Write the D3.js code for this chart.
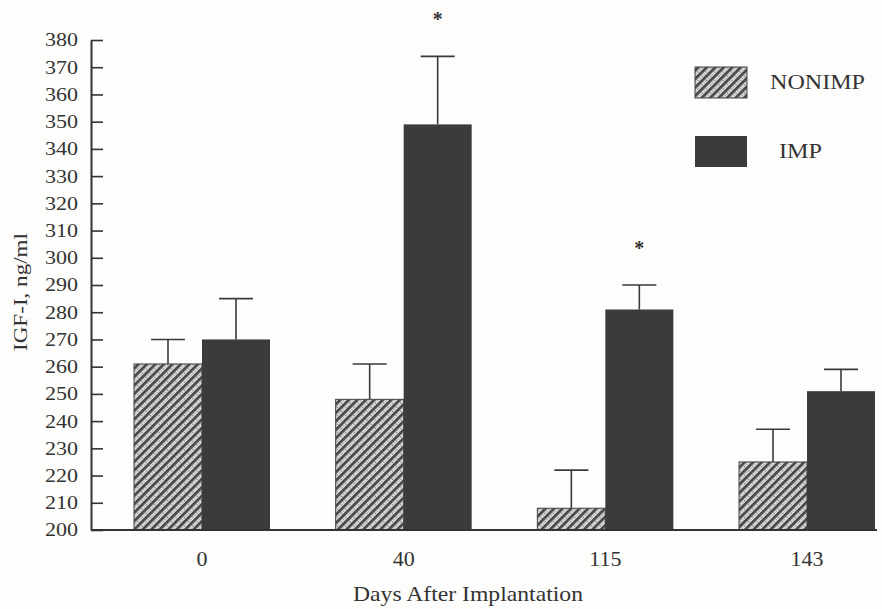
<!DOCTYPE html>
<html>
<head>
<meta charset="utf-8">
<script src="https://cdn.jsdelivr.net/npm/d3@7"></script>
<style>
  html, body { margin: 0; padding: 0; background: #fdfdfb; }
  svg { display: block; }
  text { font-family: "Liberation Serif", "DejaVu Serif", serif; fill: #333; }
</style>
</head>
<body>
<svg id="chart" width="882" height="609"></svg>
<script>
// ---- data ----
const days = ["0", "40", "115", "143"];
const seriesNames = ["NONIMP", "IMP"];
const nonimpMeans = [261, 248, 208, 225];
const impMeans = [270, 349, 281, 251];
const nonimpErr = [9, 13, 14, 12];
const impErr = [15, 25, 9, 8];
const significant = [false, true, true, false];
const yTicks = [200, 210, 220, 230, 240, 250, 260, 270, 280, 290, 300, 310, 320, 330, 340, 350, 360, 370, 380];

const svg = d3.select("#chart");
const ink = "#333";

// hatch pattern for NONIMP
const defs = svg.append("defs");
const pat = defs.append("pattern")
  .attr("id", "hatch")
  .attr("patternUnits", "userSpaceOnUse")
  .attr("width", 6).attr("height", 6)
  .attr("patternTransform", "rotate(45)");
pat.append("rect").attr("width", 6).attr("height", 6).attr("fill", "#e2e2e0");
pat.append("rect").attr("x", 0).attr("y", 0).attr("width", 2.8).attr("height", 6).attr("fill", "#474747");
pat.append("circle").attr("cx", 4.4).attr("cy", 1.5).attr("r", 0.8).attr("fill", "#6a6a6a");
pat.append("circle").attr("cx", 4.4).attr("cy", 4.5).attr("r", 0.7).attr("fill", "#999");

const fills = { NONIMP: "url(#hatch)", IMP: "#3b3b3b" };

// scales
const y = d3.scaleLinear().domain([200, 380]).range([530, 40]);
const x = d3.scalePoint().domain(days).range([202, 807]);
const xs = d3.scaleBand().domain(seriesNames).range([-68, 68]).padding(0);

// y axis
const yAxis = d3.axisLeft(y).tickValues(yTicks).tickSizeInner(-12).tickSizeOuter(0).tickPadding(13).tickFormat(d3.format("d"));
const gy = svg.append("g").attr("transform", "translate(91,0)").call(yAxis);
gy.attr("font-family", null).attr("font-size", null);
gy.select(".domain").attr("stroke", ink).attr("stroke-width", 2);
gy.selectAll(".tick line").attr("stroke", ink).attr("stroke-width", 1.6);
gy.selectAll(".tick text").attr("font-size", 18.5).attr("fill", "#3a3a3a")
  .attr("textLength", 33).attr("lengthAdjust", "spacingAndGlyphs");

// bars
const rows = [];
days.forEach((d, i) => {
  rows.push({ day: d, series: "NONIMP", mean: nonimpMeans[i], err: nonimpErr[i], sig: false });
  rows.push({ day: d, series: "IMP", mean: impMeans[i], err: impErr[i], sig: significant[i] });
});

const gBars = svg.append("g");
gBars.selectAll("rect.bar").data(rows).join("rect")
  .attr("class", "bar")
  .attr("x", d => x(d.day) + xs(d.series))
  .attr("width", xs.bandwidth())
  .attr("y", d => y(d.mean))
  .attr("height", d => y(200) - y(d.mean))
  .attr("fill", d => fills[d.series])
  .attr("stroke", d => d.series === "NONIMP" ? "#444" : "none")
  .attr("stroke-width", 1);

// error bars
const gErr = svg.append("g").attr("stroke", "#3a3a3a").attr("stroke-width", 1.6);
const cx = d => x(d.day) + xs(d.series) + xs.bandwidth() / 2;
gErr.selectAll("line.v").data(rows).join("line")
  .attr("x1", cx).attr("x2", cx)
  .attr("y1", d => y(d.mean)).attr("y2", d => y(d.mean + d.err));
gErr.selectAll("line.cap").data(rows).join("line")
  .attr("x1", d => cx(d) - 17).attr("x2", d => cx(d) + 17)
  .attr("y1", d => y(d.mean + d.err)).attr("y2", d => y(d.mean + d.err));

// significance asterisks
svg.append("g").selectAll("text").data(rows.filter(d => d.sig)).join("text")
  .attr("x", cx)
  .attr("y", d => y(d.mean + d.err) - 30)
  .attr("text-anchor", "middle")
  .attr("font-size", 20)
  .attr("font-weight", "bold")
  .text("*");

// x baseline
svg.append("line").attr("x1", 91).attr("x2", 877).attr("y1", y(200)).attr("y2", y(200))
  .attr("stroke", ink).attr("stroke-width", 2);

// x labels
svg.append("g").selectAll("text").data(days).join("text")
  .attr("x", d => x(d))
  .attr("y", 566)
  .attr("text-anchor", "middle")
  .attr("font-size", 22)
  .text(d => d);

// axis titles
svg.append("text").attr("x", 468).attr("y", 601).attr("text-anchor", "middle")
  .attr("font-size", 21).attr("textLength", 230).attr("lengthAdjust", "spacingAndGlyphs")
  .text("Days After Implantation");
svg.append("text").attr("transform", "translate(27,292) rotate(-90)").attr("text-anchor", "middle")
  .attr("font-size", 19).attr("textLength", 118).attr("lengthAdjust", "spacingAndGlyphs")
  .text("IGF-I, ng/ml");

// legend
const legend = svg.append("g");
const legendItems = [
  { name: "NONIMP", y: 67, tx: 770, ty: 89, len: 95 },
  { name: "IMP", y: 136, tx: 779, ty: 158, len: 43 }
];
legend.selectAll("rect").data(legendItems).join("rect")
  .attr("x", 695).attr("y", d => d.y).attr("width", 52).attr("height", 31)
  .attr("fill", d => fills[d.name])
  .attr("stroke", d => d.name === "NONIMP" ? "#444" : "none");
legend.selectAll("text").data(legendItems).join("text")
  .attr("x", d => d.tx).attr("y", d => d.ty)
  .attr("font-size", 20)
  .attr("textLength", d => d.len).attr("lengthAdjust", "spacingAndGlyphs")
  .text(d => d.name);
</script>
</body>
</html>
